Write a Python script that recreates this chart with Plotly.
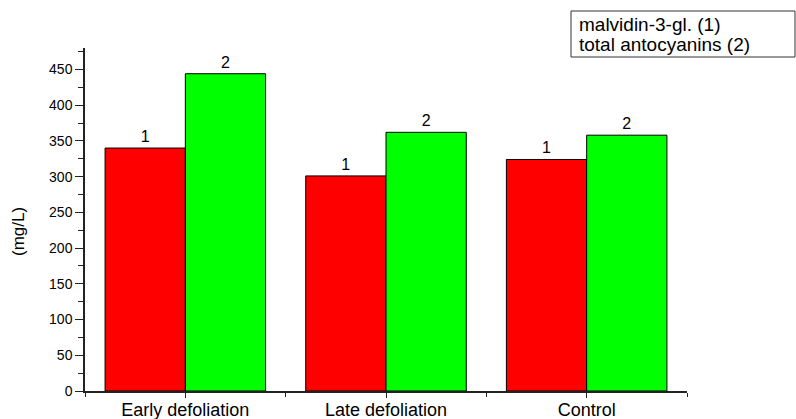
import plotly.graph_objects as go

categories = ["Early defoliation", "Late defoliation", "Control"]
malvidin = [340, 301, 324]
total_antocyanins = [444, 362, 358]
series_labels = ["1", "2"]
legend_lines = ["malvidin-3-gl. (1)", "total antocyanins (2)"]
y_ticks = [0, 50, 100, 150, 200, 250, 300, 350, 400, 450]

positions = list(range(len(categories)))

# pixel geometry of the plot area
W, H = 796, 419
L, R, T, B = 85, 687, 48, 391
pw, ph = R - L, B - T

def px_x(x):
    return (x - L) / pw

def px_y(y):
    return (B - y) / ph

FONT = "Liberation Sans, Arial"

fig = go.Figure()
fig.add_trace(go.Bar(
    x=positions, y=malvidin, name=legend_lines[0],
    marker=dict(color="#FF0000", line=dict(color="#000000", width=1)),
    text=[series_labels[0]] * len(categories), textposition="outside",
    textfont=dict(family=FONT, size=16, color="#000"),
    cliponaxis=False, width=0.4, offset=-0.4,
))
fig.add_trace(go.Bar(
    x=positions, y=total_antocyanins, name=legend_lines[1],
    marker=dict(color="#00FF00", line=dict(color="#000000", width=1)),
    text=[series_labels[1]] * len(categories), textposition="outside",
    textfont=dict(family=FONT, size=16, color="#000"),
    cliponaxis=False, width=0.4, offset=0.0,
))

fig.update_layout(
    width=W, height=H,
    margin=dict(l=L, r=W - R, t=T, b=H - B, autoexpand=False),
    paper_bgcolor="white", plot_bgcolor="white",
    showlegend=False,
    barmode="overlay",
    font=dict(family=FONT, color="#000"),
    xaxis=dict(
        range=[-0.5, 2.5], tickmode="array", tickvals=positions, ticktext=categories,
        showline=True, linecolor="#222", linewidth=1.5, showgrid=False, zeroline=False,
        ticks="outside", ticklen=5, tickwidth=1.2, tickcolor="#222",
        tickfont=dict(size=18, family=FONT), ticklabelstandoff=-3,
        minor=dict(tickmode="array", tickvals=[-0.5, 0.5, 1.5, 2.5], ticks="outside",
                   ticklen=4, tickwidth=1.2, tickcolor="#222", showgrid=False),
    ),
    yaxis=dict(
        range=[0, 480], tickmode="array", tickvals=y_ticks,
        showline=True, linecolor="#222", linewidth=1.5, showgrid=False, zeroline=False,
        ticks="outside", ticklen=8, tickwidth=1.2, tickcolor="#222",
        tickfont=dict(size=14, family=FONT),
        minor=dict(tickmode="array", tickvals=[v + 25 for v in y_ticks], ticks="outside",
                   ticklen=5, tickwidth=1.2, tickcolor="#222", showgrid=False),
    ),
)

# y-axis title
fig.add_annotation(
    text="(mg/L)", textangle=-90, showarrow=False,
    xref="paper", yref="paper", x=px_x(18), y=px_y(232),
    xanchor="center", yanchor="middle",
    font=dict(size=17, family=FONT, color="#000"),
)

# legend box
fig.add_shape(
    type="rect", xref="paper", yref="paper",
    x0=px_x(571), x1=px_x(795), y0=px_y(57), y1=px_y(11),
    line=dict(color="#333", width=1), fillcolor="rgba(0,0,0,0)",
)
for line_text, yc in zip(legend_lines, [25, 45]):
    fig.add_annotation(
        text=line_text, showarrow=False, align="left",
        xref="paper", yref="paper", x=px_x(577), y=px_y(yc),
        xanchor="left", yanchor="middle",
        font=dict(size=19, family=FONT, color="#000"),
    )

fig.write_html("out.html", config={"displayModeBar": False})

# remove the default page margin so the figure sits at the window's top-left corner
with open("out.html", "r", encoding="utf-8") as f:
    html = f.read()
html = html.replace("<head>", "<head><style>html,body{margin:0;padding:0;overflow:hidden}</style>", 1)
with open("out.html", "w", encoding="utf-8") as f:
    f.write(html)
